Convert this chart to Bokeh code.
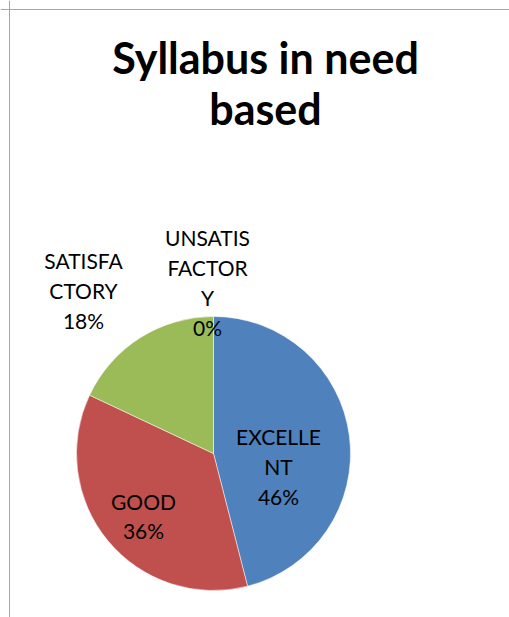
import math
from bokeh.plotting import figure
from bokeh.models import Range1d, Span
from bokeh.core.properties import value
from bokeh.embed import file_html
from bokeh.resources import INLINE

# ---- data ----
categories = ["EXCELLENT", "GOOD", "SATISFACTORY", "UNSATISFACTORY"]
percents = [46, 36, 18, 0]
label_texts = ["EXCELLE\nNT\n46%", "GOOD\n36%", "SATISFA\nCTORY\n18%", "UNSATIS\nFACTOR\nY\n0%"]
colors = ["#4F81BD", "#C0504D", "#9BBB59", "#8064A2"]
title_text = "Syllabus in need\nbased"

# ---- layout ----
W, H = 509, 617
def X(px):  # image px -> data
    return px
def Y(py):
    return H - py

p = figure(width=W, height=H, output_backend="svg", toolbar_location=None,
           x_range=Range1d(0, W), y_range=Range1d(0, H), min_border=0)
p.axis.visible = False
p.grid.visible = False
p.outline_line_color = None
p.background_fill_color = "white"
p.border_fill_color = "white"

# chart border (left and top visible)
p.add_layout(Span(location=X(9), dimension="height", line_color="#A6A6A6", line_width=1))
p.add_layout(Span(location=Y(9), dimension="width", line_color="#A6A6A6", line_width=1))

cx, cy, R = X(213), Y(453), 137
total = sum(percents)
starts, ends, wcols = [], [], []
acc = 0.0
for v, c in zip(percents, colors):
    s = math.pi / 2 - 2 * math.pi * acc / total
    acc += v
    e = math.pi / 2 - 2 * math.pi * acc / total
    if v > 0:  # zero-size slices are not drawn
        starts.append(s)
        ends.append(e)
        wcols.append(c)

p.wedge(x=[cx] * len(starts), y=[cy] * len(starts), radius=R,
        start_angle=starts, end_angle=ends, direction="clock",
        fill_color=wcols, line_color="white", line_width=0.5)

# label placement (image px centres)
label_pos = [(278, 466), (143, 515.5), (83, 290), (207, 282)]
p.text(x=[X(a) for a, b in label_pos], y=[Y(b) for a, b in label_pos], text=label_texts,
       text_font=value("Lato"), text_font_size="21px", text_color="black",
       text_align="center", text_baseline="middle", text_line_height=1.19)

p.text(x=[X(265)], y=[Y(82.5)], text=[title_text], text_font=value("Lato"),
       text_font_size="43px", text_font_style="bold", text_color="black",
       text_align="center", text_baseline="middle", text_line_height=0.99)

open("out.html", "w").write(file_html(p, INLINE))
